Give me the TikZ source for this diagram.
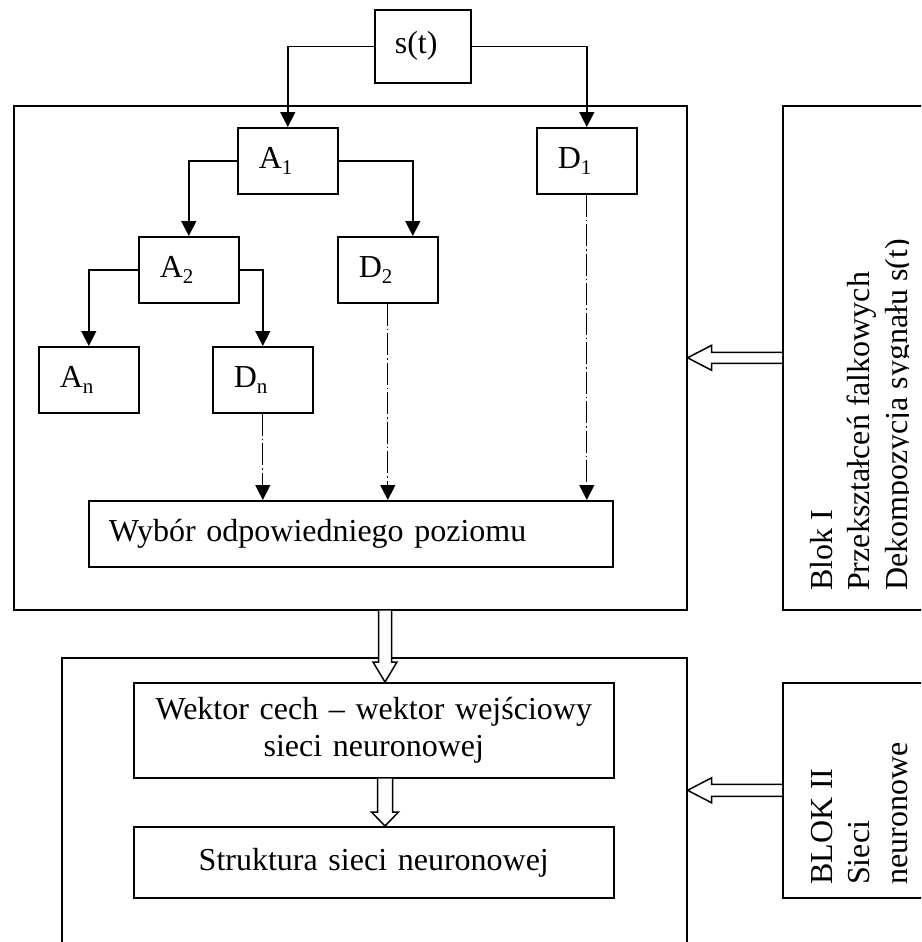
\documentclass[tikz,border=0pt]{standalone}
\usepackage{fontspec}
\setmainfont{Liberation Serif}
\usetikzlibrary{calc,arrows.meta}

% lowered, smaller index digit/letter as in A_1
\newcommand\lowidx[1]{\raisebox{-0.18em}{\fontsize{21}{21}\selectfont #1}}

% hollow block arrow pointing down: from #1 to #2,
% shaft half-width #3, head half-width #4, head length #5
\newcommand\blockdown[5]{%
  \draw[hollow] ($(#1)+(-#3,0)$) -- ($(#2)+(-#3,-#5)$) -- ($(#2)+(-#4,-#5)$)
    -- (#2) -- ($(#2)+(#4,-#5)$) -- ($(#2)+(#3,-#5)$) -- ($(#1)+(#3,0)$);}
% hollow block arrow pointing left: from #1 to #2
\newcommand\blockleft[5]{%
  \draw[hollow] ($(#1)+(0,-#3)$) -- ($(#2)+(#5,-#3)$) -- ($(#2)+(#5,-#4)$)
    -- (#2) -- ($(#2)+(#5,#4)$) -- ($(#2)+(#5,#3)$) -- ($(#1)+(0,#3)$);}

\begin{document}
\begin{tikzpicture}[x=1pt,y=-1pt,
  every node/.style={font=\fontsize{32}{37.5}\selectfont},
  frame/.style={draw, line width=1.6pt, inner sep=0pt, anchor=north west},
  leaf/.style={frame, minimum width=100pt, minimum height=66pt,
               text width=58pt, inner xsep=21pt, align=left},
  wide/.style={frame, minimum width=480pt, text width=480pt, align=center},
  conn/.style={line width=1.5pt, -{Triangle[width=15pt,length=15pt]}},
  feed/.style={line width=1.3pt, dash pattern=on 22pt off 3pt on 1.5pt off 3pt,
               -{Triangle[width=15pt,length=15pt]}},
  hollow/.style={draw, line width=1.5pt, fill=white, line join=miter},
  sidetext/.style={rotate=90, anchor=north west, align=left, inner sep=0pt},
]
\useasboundingbox (0,0) rectangle (921,942);
\clip (0,0) rectangle (921,942);

% outer blocks
\node[frame, minimum width=673pt, minimum height=504pt] (box1) at (13,105) {};
\node[frame, minimum width=625pt, minimum height=400pt] (box2) at (61,657) {};
\node[frame, minimum width=200pt, minimum height=504pt] (blk1) at (782,105) {};
\node[frame, minimum width=200pt, minimum height=215pt] (blk2) at (782,682) {};

% block captions, written upwards
\begin{scope}
  \clip (782,105) rectangle (908,609);
  \node[sidetext] (cap1) at (810,591)
    {Blok I\\Przekształceń falkowych\\Dekompozycja sygnału s(t)};
\end{scope}
\node[sidetext] (cap2) at (811,885) {BLOK II\\Sieci\\neuronowe};

% signal and decomposition tree
\node[frame, minimum width=96pt, minimum height=73pt, text width=56pt,
      inner xsep=20pt, align=left] (st) at (374,9) {s(t)};
\node[leaf] (a1) at (237,127) {A\lowidx{1}};
\node[leaf] (d1) at (536,127) {D\lowidx{1}};
\node[leaf] (a2) at (138,236) {A\lowidx{2}};
\node[leaf] (d2) at (337,236) {D\lowidx{2}};
\node[leaf] (an) at (38,346) {A\lowidx{n}};
\node[leaf] (dn) at (212,346) {D\lowidx{n}};

\node[frame, minimum width=524pt, minimum height=66pt, text width=484pt,
      inner xsep=20pt, align=left] (wyb) at (88,500) {Wybór odpowiedniego poziomu};

% neural network block
\node[wide, minimum height=95pt, font=\fontsize{32}{36.5}\selectfont] (wek) at (133,682)
  {Wektor cech – wektor wejściowy\\sieci neuronowej};
\node[wide, minimum height=71pt] (str) at (133,826) {Struktura sieci neuronowej};

% tree connectors
\draw[conn] (st.west) -| (a1.north);
\draw[conn] (st.east) -| (d1.north);
\draw[conn] (a1.west) -| (a2.north);
\draw[conn] (a1.east) -| ([xshift=25pt]d2.north);
\draw[conn] (a2.west) -| (an.north);
\draw[conn] (a2.east) -| (dn.north);

% detail levels feeding the selection
\draw[feed] (dn.south) -- (dn.south |- wyb.north);
\draw[feed] (d2.south) -- (d2.south |- wyb.north);
\draw[feed] (d1.south) -- (d1.south |- wyb.north);

% hollow arrows between blocks
\coordinate (col) at (385,0);
\coordinate (p1) at (col |- box1.south);
\coordinate (p2) at (col |- wek.north);
\coordinate (p3) at (col |- wek.south);
\coordinate (p4) at (col |- str.north);
\blockdown{p1}{p2}{6.5}{12}{20}
\blockdown{p3}{p4}{7.5}{13.5}{14}

\coordinate (q1) at (blk1.west);
\coordinate (q2) at (box1.east |- blk1.west);
\coordinate (q3) at (blk2.west);
\coordinate (q4) at (box2.east |- blk2.west);
\blockleft{q1}{q2}{5.5}{12.5}{24}
\blockleft{q3}{q4}{6}{12.5}{24}
\end{tikzpicture}
\end{document}
